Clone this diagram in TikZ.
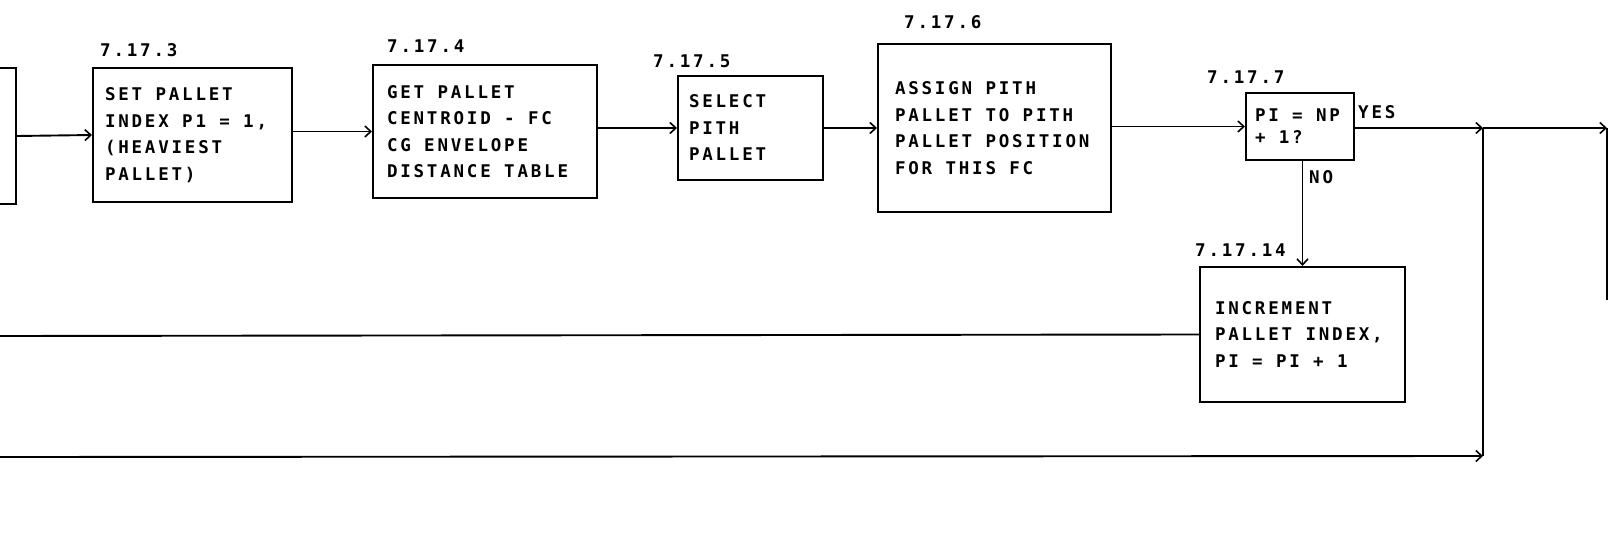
\documentclass[tikz,border=0pt]{standalone}
\usepackage{fontspec}
\usetikzlibrary{arrows.meta}
\newfontfamily\dmfont[LetterSpace=16]{DejaVu Sans Mono}
\newcommand{\boxfont}{\dmfont\bfseries\fontsize{17.5pt}{26.5pt}\selectfont}
\newcommand{\smallboxfont}{\dmfont\bfseries\fontsize{17.5pt}{22pt}\selectfont}
\newcommand{\sk}{\hspace*{13.3pt}}
\begin{document}
\begin{tikzpicture}[x=1pt,y=-1pt,
  box/.style={draw, line width=2pt, align=left, inner ysep=0pt, font=\boxfont},
  lbl/.style={anchor=base west, inner sep=0pt, font=\boxfont},
  conn/.style={line width=1.9pt},
  arr/.style={line width=1.9pt, -{Straight Barb[length=6pt,width=11pt,line width=1.6pt]}}]
\useasboundingbox (0,0) rectangle (1610,551);
\clip (0,0) rectangle (1610,551);
\fill[white] (0,0) rectangle (1610,551);

% boxes
\node[box, minimum width=60pt, minimum height=136pt] (prev) at (-14,136) {};
\node[box, minimum width=199pt, minimum height=134pt, text width=175pt, inner xsep=12pt] (b3) at (192.5,135)
  {SET\sk PALLET\\INDEX\sk P1\sk =\sk 1,\\(HEAVIEST\\PALLET)};
\node[box, minimum width=224pt, minimum height=133pt, text width=196pt, inner xsep=14pt] (b4) at (485,131.5)
  {GET\sk PALLET\\CENTROID\sk -\sk FC\\CG\sk ENVELOPE\\DISTANCE\sk TABLE};
\node[box, minimum width=145pt, minimum height=104pt, text width=123pt, inner xsep=11pt] (b5) at (750.5,128)
  {SELECT\\PITH\\PALLET};
\node[box, minimum width=233pt, minimum height=168pt, text width=199pt, inner xsep=17pt] (b6) at (994.5,128)
  {ASSIGN\sk PITH\\PALLET\sk TO\sk PITH\\PALLET\sk POSITION\\FOR\sk THIS\sk FC};
\node[box, minimum width=108pt, minimum height=67pt, text width=90pt, inner xsep=9pt,
  font=\smallboxfont] (b7) at (1300,126.5)
  {PI\sk =\sk NP\\+\sk 1?};
\node[box, minimum width=205pt, minimum height=135pt, text width=175pt, inner xsep=15pt] (b14) at (1302.5,334.5)
  {INCREMENT\\PALLET\sk INDEX,\\PI\sk =\sk PI\sk +\sk 1};

% labels
\node[lbl] (l3) at (100,57) {7.17.3};
\node[lbl] (l4) at (387,53) {7.17.4};
\node[lbl] (l5) at (653,68) {7.17.5};
\node[lbl] (l6) at (904,29) {7.17.6};
\node[lbl] (l7) at (1207,84) {7.17.7};
\node[lbl] (l14) at (1195,256) {7.17.14};
\node[lbl] (yes) at (1358,118) {YES};
\node[lbl] (no) at (1309,183) {NO};

% junctions
\coordinate (j1) at (1483,128);
\coordinate (j2) at (1607,128);
\coordinate (j3) at (1607,300);
\coordinate (j4) at (1483,456);
\coordinate (eL1) at (0,336);
\coordinate (eL2) at (0,457);

% connectors
\draw[arr] (prev.east) -- (b3.west);
\draw[arr] (b3.east |- b4.west) -- (b4.west);
\draw[arr] (b4.east |- b5.west) -- (b5.west);
\draw[arr] (b5.east) -- (b6.west |- b5.east);
\draw[arr] (b6.east |- b7.west) -- (b7.west);
\draw[arr] (b7.east |- j1) -- (j1);
\draw[arr] (j1) -- (j2);
\draw[conn] (j2) -- (j3);
\draw[arr] (b14.north |- b7.south) -- (b14.north);
\draw[conn] (b14.west) -- (eL1);
\draw[arr] (eL2) -- (j4);
\draw[conn] (j4) -- (j1);
\end{tikzpicture}
\end{document}
